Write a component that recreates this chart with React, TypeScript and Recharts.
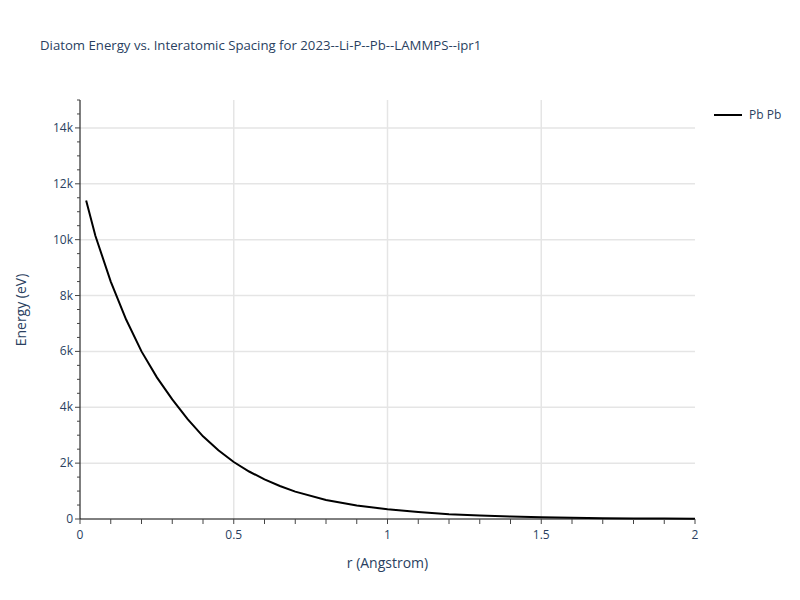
import React from 'react';
import { LineChart, Line, XAxis, YAxis, CartesianGrid, Legend } from 'recharts';

// r (Angstrom) and energy (eV)
const rValues = [
  0.02, 0.05, 0.1, 0.15, 0.2, 0.25, 0.3, 0.35, 0.4, 0.45, 0.5, 0.55, 0.6, 0.65, 0.7,
  0.8, 0.9, 1.0, 1.1, 1.2, 1.3, 1.4, 1.5, 1.6, 1.7, 1.8, 1.9, 2.0,
];
const energyValues = [
  11400, 10140, 8500, 7140, 6000, 5070, 4280, 3575, 2960, 2460, 2040, 1700, 1420, 1180, 980,
  680, 480, 350, 250, 170, 125, 90, 62, 42, 28, 20, 14, 10,
];
const seriesName = 'Pb Pb';

const xTicks = [0, 0.1, 0.2, 0.3, 0.4, 0.5, 0.6, 0.7, 0.8, 0.9, 1, 1.1, 1.2, 1.3, 1.4, 1.5, 1.6, 1.7, 1.8, 1.9, 2];
const xLabelTicks = [0, 0.5, 1, 1.5, 2];
const yTicks = [
  0, 500, 1000, 1500, 2000, 2500, 3000, 3500, 4000, 4500, 5000, 5500, 6000, 6500, 7000,
  7500, 8000, 8500, 9000, 9500, 10000, 10500, 11000, 11500, 12000, 12500, 13000, 13500, 14000, 14500, 15000,
];
const yLabelTicks = [0, 2000, 4000, 6000, 8000, 10000, 12000, 14000];

const data = rValues.map((r, i) => ({ r, energy: energyValues[i] }));

const FONT = '"Open Sans", verdana, arial, sans-serif';
const TEXT_COLOR = '#2a3f5f';
const TICK_COLOR = '#444';

const formatY = (v: number) => (v === 0 ? '0' : `${v / 1000}k`);

const XTick = ({ x, y, payload }: any) => {
  const isLabel = xLabelTicks.some((t) => Math.abs(t - payload.value) < 1e-9);
  return (
    <g>
      <line x1={x} x2={x} y1={y} y2={y + 5} stroke={TICK_COLOR} strokeWidth={1} />
      {isLabel && (
        <text x={x} y={y + 20} textAnchor="middle" fontSize={12} fill={TEXT_COLOR} fontFamily={FONT}>
          {String(payload.value)}
        </text>
      )}
    </g>
  );
};

const YTick = ({ x, y, payload }: any) => {
  const isLabel = yLabelTicks.includes(payload.value);
  const len = isLabel ? 5 : 3;
  return (
    <g>
      <line x1={x - len} x2={x} y1={y} y2={y} stroke={TICK_COLOR} strokeWidth={1} />
      {isLabel && (
        <text x={x - 7} y={y + 4} textAnchor="end" fontSize={12} fill={TEXT_COLOR} fontFamily={FONT}>
          {formatY(payload.value)}
        </text>
      )}
    </g>
  );
};

const LegendContent = () => (
  <div style={{ display: 'flex', alignItems: 'center', fontFamily: FONT, fontSize: 12, color: TEXT_COLOR }}>
    <svg width={30} height={10}>
      <line x1={0} x2={28} y1={5} y2={5} stroke="#000" strokeWidth={2} />
    </svg>
    <span style={{ marginLeft: 5 }}>{seriesName}</span>
  </div>
);

const App: React.FC = () => {
  return (
    <div style={{ position: 'absolute', left: 0, top: 0, width: 800, height: 600, background: '#fff' }}>
      <div
        style={{
          position: 'absolute', left: 40, top: 36, fontFamily: FONT, fontSize: 13.2,
          color: TEXT_COLOR, whiteSpace: 'nowrap',
        }}
      >
        Diatom Energy vs. Interatomic Spacing for 2023--Li-P--Pb--LAMMPS--ipr1
      </div>
      <LineChart width={800} height={600} data={data} margin={{ top: 100, right: 19, bottom: 0, left: 0 }}>
        <CartesianGrid
          stroke="#e5e5e5"
          strokeWidth={1.5}
          horizontalValues={[2000, 4000, 6000, 8000, 10000, 12000, 14000]}
          verticalValues={[0.5, 1, 1.5]}
        />
        <XAxis
          dataKey="r"
          type="number"
          domain={[0, 2]}
          ticks={xTicks}
          interval={0}
          height={81}
          tickSize={0}
          tickMargin={0}
          tickLine={false}
          axisLine={{ stroke: '#000', strokeWidth: 1 }}
          tick={<XTick />}
        />
        <YAxis
          type="number"
          domain={[0, 15000]}
          ticks={yTicks}
          interval={0}
          width={80}
          tickSize={0}
          tickMargin={0}
          tickLine={false}
          axisLine={{ stroke: '#000', strokeWidth: 1 }}
          tick={<YTick />}
        />
        <Legend
          layout="vertical"
          verticalAlign="top"
          align="right"
          content={<LegendContent />}
          wrapperStyle={{ top: 106, left: 714, width: 86 }}
        />
        <Line
          type="linear"
          dataKey="energy"
          name={seriesName}
          stroke="#000"
          strokeWidth={2}
          dot={false}
          activeDot={false}
          isAnimationActive={false}
        />
      </LineChart>
      <div
        style={{
          position: 'absolute', left: 0, width: 695 + 80, top: 553, textAlign: 'center',
          fontFamily: FONT, fontSize: 14, color: TEXT_COLOR,
        }}
      >
        r (Angstrom)
      </div>
      <div
        style={{
          position: 'absolute', left: 20, top: 310, fontFamily: FONT, fontSize: 14,
          color: TEXT_COLOR, whiteSpace: 'nowrap', transform: 'translate(-50%, -50%) rotate(-90deg)',
        }}
      >
        Energy (eV)
      </div>
    </div>
  );
};

export default App;
